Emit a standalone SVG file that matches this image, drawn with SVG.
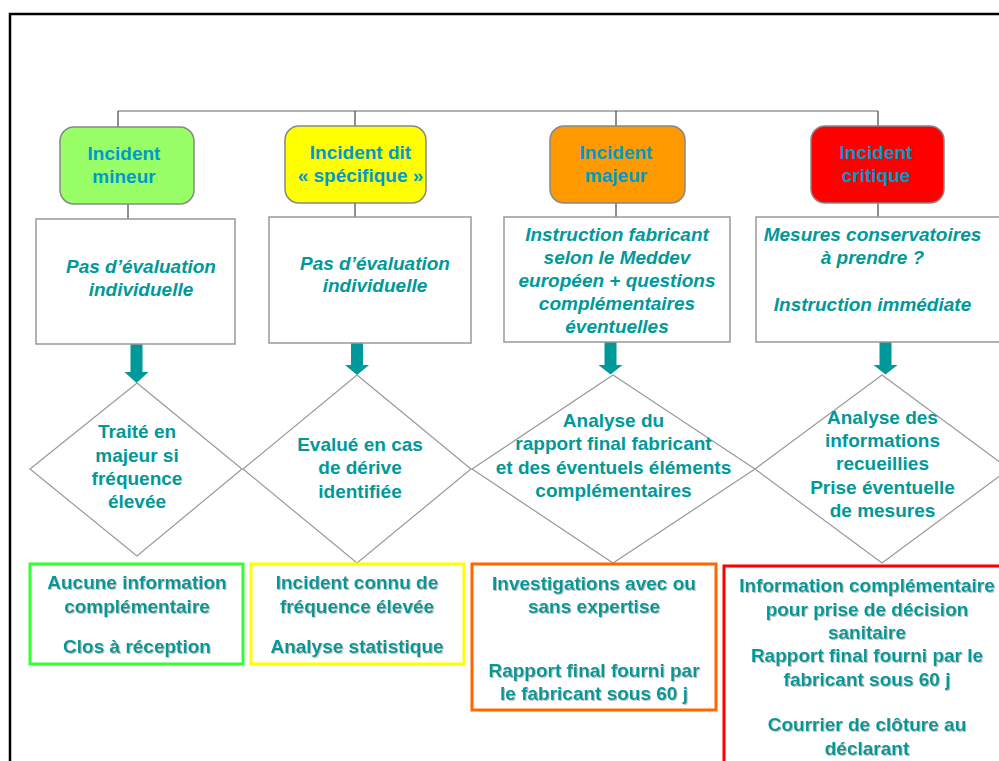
<svg xmlns="http://www.w3.org/2000/svg" width="999" height="761" viewBox="0 0 999 761">
<defs>
<style>
.hdr{font-family:"Liberation Sans",Arial,sans-serif;font-weight:bold;font-size:19px;fill:#0099CC;text-anchor:middle}
.it{font-family:"Liberation Sans",Arial,sans-serif;font-weight:bold;font-style:italic;font-size:19px;fill:#009999;text-anchor:middle}
.tx{font-family:"Liberation Sans",Arial,sans-serif;font-weight:bold;font-size:19px;fill:#009999;text-anchor:middle}
.sh{filter:url(#shadow)}
.hbox{stroke:#888;stroke-width:1.5}
.rbox{fill:#fff;stroke:#999;stroke-width:1.5}
.dia{fill:none;stroke:#999;stroke-width:1.2}
.arr{fill:#009999}
.bbox{fill:#fff;stroke-width:3}
.conn-h{stroke:#999;stroke-width:1.5;fill:none}
.conn-v{stroke:#444;stroke-width:1.2;fill:none}
</style>
<filter id="shadow" x="-10%" y="-20%" width="120%" height="150%">
<feDropShadow dx="1" dy="1" stdDeviation="0.4" flood-color="#b0b0b0" flood-opacity="0.8"/>
</filter>
</defs>
<rect width="999" height="761" fill="#fff"/>
<path d="M10,761 V14 H999" fill="none" stroke="#000" stroke-width="2.5"/>

<g id="connectors">
<path class="conn-h" d="M118,111 H878"/>
<path class="conn-v" d="M118,111 V127 M355,111 V126 M616,111 V126 M878,111 V126"/>
<path class="conn-v" d="M128,204 V219 M355,203 V217 M616,203 V217 M878,203 V217"/>
<polygon class="arr" points="130.5,344 142.5,344 142.5,372 148.5,372 136.5,383 124.5,372 130.5,372"/>
<polygon class="arr" points="351,343 363,343 363,365 369,365 357,375 345,365 351,365"/>
<polygon class="arr" points="604.5,342 616.5,342 616.5,365 622.5,365 610.5,374.5 598.5,365 604.5,365"/>
<polygon class="arr" points="879.5,342 891.5,342 891.5,365 897.5,365 885.5,374.5 873.5,365 879.5,365"/>
</g>

<g id="h-mineur">
<rect class="hbox" x="60" y="127" width="134" height="77" rx="14" fill="#99FF66"/>
<text class="hdr" x="124" y="159.5">Incident</text>
<text class="hdr" x="124" y="183">mineur</text>
</g>
<g id="h-specifique">
<rect class="hbox" x="285" y="126" width="141" height="77" rx="14" fill="#FFFF00"/>
<text class="hdr" x="360.5" y="159">Incident dit</text>
<text class="hdr" x="360.5" y="182">« spécifique »</text>
</g>
<g id="h-majeur">
<rect class="hbox" x="550" y="126" width="135" height="77" rx="14" fill="#FF9900"/>
<text class="hdr" x="616" y="159">Incident</text>
<text class="hdr" x="616" y="182">majeur</text>
</g>
<g id="h-critique">
<rect class="hbox" x="811" y="126" width="133" height="77" rx="14" fill="#FF0000"/>
<text class="hdr" x="876" y="159">Incident</text>
<text class="hdr" x="876" y="182">critique</text>
</g>

<g id="r-mineur">
<rect class="rbox" x="36" y="219" width="199" height="125"/>
<text class="it" x="141" y="273">Pas d’évaluation</text>
<text class="it" x="141" y="296">individuelle</text>
</g>
<g id="r-specifique">
<rect class="rbox" x="269" y="217" width="202" height="126"/>
<text class="it" x="375" y="270">Pas d’évaluation</text>
<text class="it" x="375" y="292">individuelle</text>
</g>
<g id="r-majeur">
<rect class="rbox" x="504" y="217" width="226" height="125"/>
<text class="it" x="617" y="241">Instruction fabricant</text>
<text class="it" x="617" y="264">selon le Meddev</text>
<text class="it" x="617" y="287">européen + questions</text>
<text class="it" x="617" y="310">complémentaires</text>
<text class="it" x="617" y="333">éventuelles</text>
</g>
<g id="r-critique">
<rect class="rbox" x="756" y="217" width="260" height="125"/>
<text class="it" x="872.5" y="241">Mesures conservatoires</text>
<text class="it" x="872.5" y="264">à prendre ?</text>
<text class="it" x="872.5" y="311">Instruction immédiate</text>
</g>

<g id="d-mineur">
<polygon class="dia" points="137,383 242,469 137,556 30,469"/>
<text class="tx" x="137" y="438">Traité en</text>
<text class="tx" x="137" y="461.5">majeur si</text>
<text class="tx" x="137" y="485">fréquence</text>
<text class="tx" x="137" y="508">élevée</text>
</g>
<g id="d-specifique">
<polygon class="dia" points="357,375 471,469 357,563 243,469"/>
<text class="tx" x="360" y="451">Evalué en cas</text>
<text class="tx" x="360" y="474">de dérive</text>
<text class="tx" x="360" y="498">identifiée</text>
</g>
<g id="d-majeur">
<polygon class="dia" points="613,375 755,469 613,563 472,469"/>
<text class="tx" x="613.5" y="427">Analyse du</text>
<text class="tx" x="613.5" y="450">rapport final fabricant</text>
<text class="tx" x="613.5" y="473.5">et des éventuels éléments</text>
<text class="tx" x="613.5" y="497">complémentaires</text>
</g>
<g id="d-critique">
<polygon class="dia" points="882,375 1009,469 882,563 755,469"/>
<text class="tx" x="882.5" y="423.5">Analyse des</text>
<text class="tx" x="882.5" y="447">informations</text>
<text class="tx" x="882.5" y="470">recueillies</text>
<text class="tx" x="882.5" y="494">Prise éventuelle</text>
<text class="tx" x="882.5" y="517">de mesures</text>
</g>

<g id="b-mineur">
<rect class="bbox" x="30" y="564" width="213" height="100" stroke="#33FF33"/>
<text class="tx sh" x="137" y="589">Aucune information</text>
<text class="tx sh" x="137" y="613">complémentaire</text>
<text class="tx sh" x="137" y="653">Clos à réception</text>
</g>
<g id="b-specifique">
<rect class="bbox" x="251" y="564" width="213" height="100" stroke="#FFFF00"/>
<text class="tx sh" x="357" y="589">Incident connu de</text>
<text class="tx sh" x="357" y="613">fréquence élevée</text>
<text class="tx sh" x="357" y="653">Analyse statistique</text>
</g>
<g id="b-majeur">
<rect class="bbox" x="472" y="564" width="244" height="146" stroke="#FF6600"/>
<text class="tx sh" x="594" y="590">Investigations avec ou</text>
<text class="tx sh" x="594" y="613">sans expertise</text>
<text class="tx sh" x="594" y="676.5">Rapport final fourni par</text>
<text class="tx sh" x="594" y="700">le fabricant sous 60 j</text>
</g>
<g id="b-critique">
<rect class="bbox" x="724" y="566" width="300" height="220" stroke="#FF0000"/>
<text class="tx sh" x="867" y="592">Information complémentaire</text>
<text class="tx sh" x="867" y="615.5">pour prise de décision</text>
<text class="tx sh" x="867" y="639">sanitaire</text>
<text class="tx sh" x="867" y="662">Rapport final fourni par le</text>
<text class="tx sh" x="867" y="685.5">fabricant sous 60 j</text>
<text class="tx sh" x="867" y="731">Courrier de clôture au</text>
<text class="tx sh" x="867" y="755">déclarant</text>
</g>
</svg>
